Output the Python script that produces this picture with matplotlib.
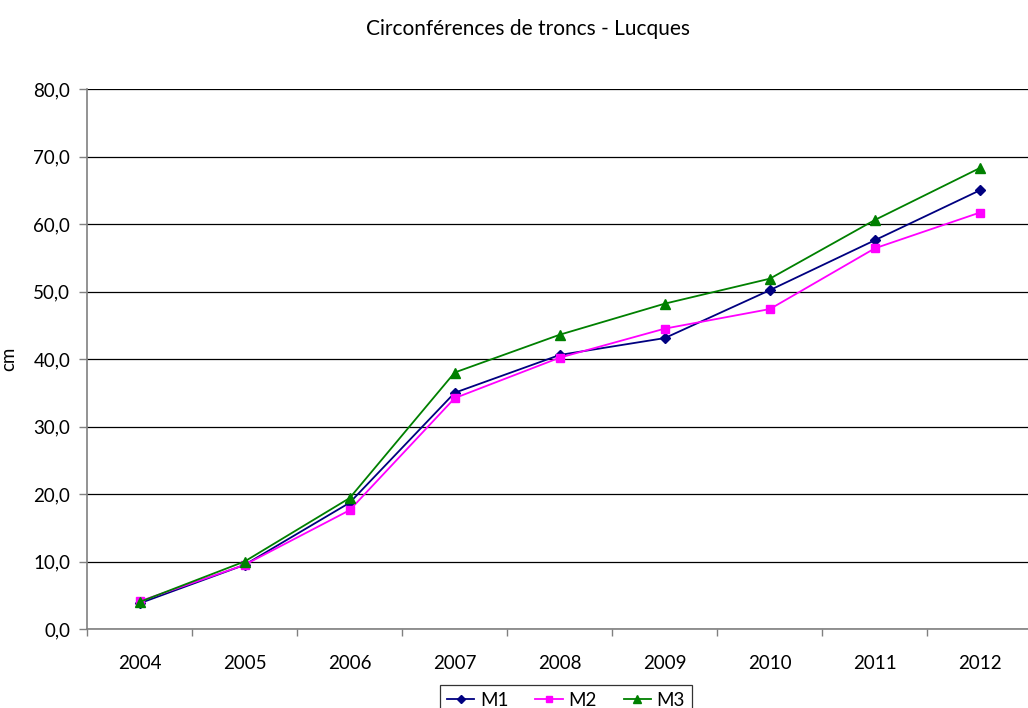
import matplotlib
matplotlib.use("Agg")
import matplotlib.pyplot as plt
import numpy as np

years = ["2004", "2005", "2006", "2007", "2008", "2009", "2010", "2011", "2012"]
m1 = [3.8, 9.5, 18.7, 35.0, 40.6, 43.1, 50.2, 57.6, 65.0]
m2 = [4.1, 9.5, 17.6, 34.2, 40.2, 44.5, 47.4, 56.4, 61.7]
m3 = [4.0, 10.0, 19.4, 38.0, 43.6, 48.2, 51.9, 60.6, 68.3]
yticks = [0, 10, 20, 30, 40, 50, 60, 70, 80]

plt.rcParams['font.family'] = ['Lato', 'DejaVu Sans']

W, H = 1028, 708
fig = plt.figure(figsize=(W/100, H/100), dpi=100)
left, right, top, bottom = 87, 1032.5, 89, 629
ax = fig.add_axes([left/W, 1-bottom/H, (right-left)/W, (bottom-top)/H])

x = np.arange(len(years))
ax.plot(x, m1, color='#000080', marker='D', markersize=5, lw=1.3, label='M1', zorder=3)
ax.plot(x, m2, color='#FF00FF', marker='s', markersize=6, lw=1.3, label='M2', zorder=3)
ax.plot(x, m3, color='#008000', marker='^', markersize=6.5, lw=1.3, label='M3', zorder=3)

ax.set_xlim(-0.5, len(years)-0.5)
ax.set_ylim(0, 80)
ax.set_yticks(yticks)
ax.set_yticklabels([f"{v:.1f}".replace('.', ',') for v in yticks], fontsize=13.5)
ax.yaxis.grid(True, color='black', lw=0.9)
ax.set_axisbelow(True)

ax.set_xticks(x)
ax.set_xticklabels(years, fontsize=13.5)
ax.tick_params(axis='x', which='major', length=0, pad=19)
ax.set_xticks(np.arange(-0.5, len(years), 1.0), minor=True)
ax.tick_params(axis='x', which='minor', length=5, color='#808080', width=1)
ax.tick_params(axis='y', length=6, color='#808080', width=1, pad=6)

for s in ['top', 'right']:
    ax.spines[s].set_visible(False)
for s in ['left', 'bottom']:
    ax.spines[s].set_color('#808080')
    ax.spines[s].set_linewidth(1.2)

ax.set_ylabel('cm', fontsize=13.5)
ax.yaxis.set_label_coords(-(87-17)/(right-left), 0.5)

fig.text(528/W, 1-29/H, 'Circonférences de troncs - Lucques', ha='center', va='center', fontsize=15)

leg = fig.legend(loc='upper center', bbox_to_anchor=(566/W, 1-685/H), ncol=3, frameon=True,
                 fancybox=False, edgecolor='black', fontsize=13.5, handlelength=1.45,
                 columnspacing=1.45, handletextpad=0.3, borderpad=0.35, borderaxespad=0,
                 markerscale=0.8)
leg.get_frame().set_linewidth(0.9)

fig.savefig('out.png', dpi=100)
